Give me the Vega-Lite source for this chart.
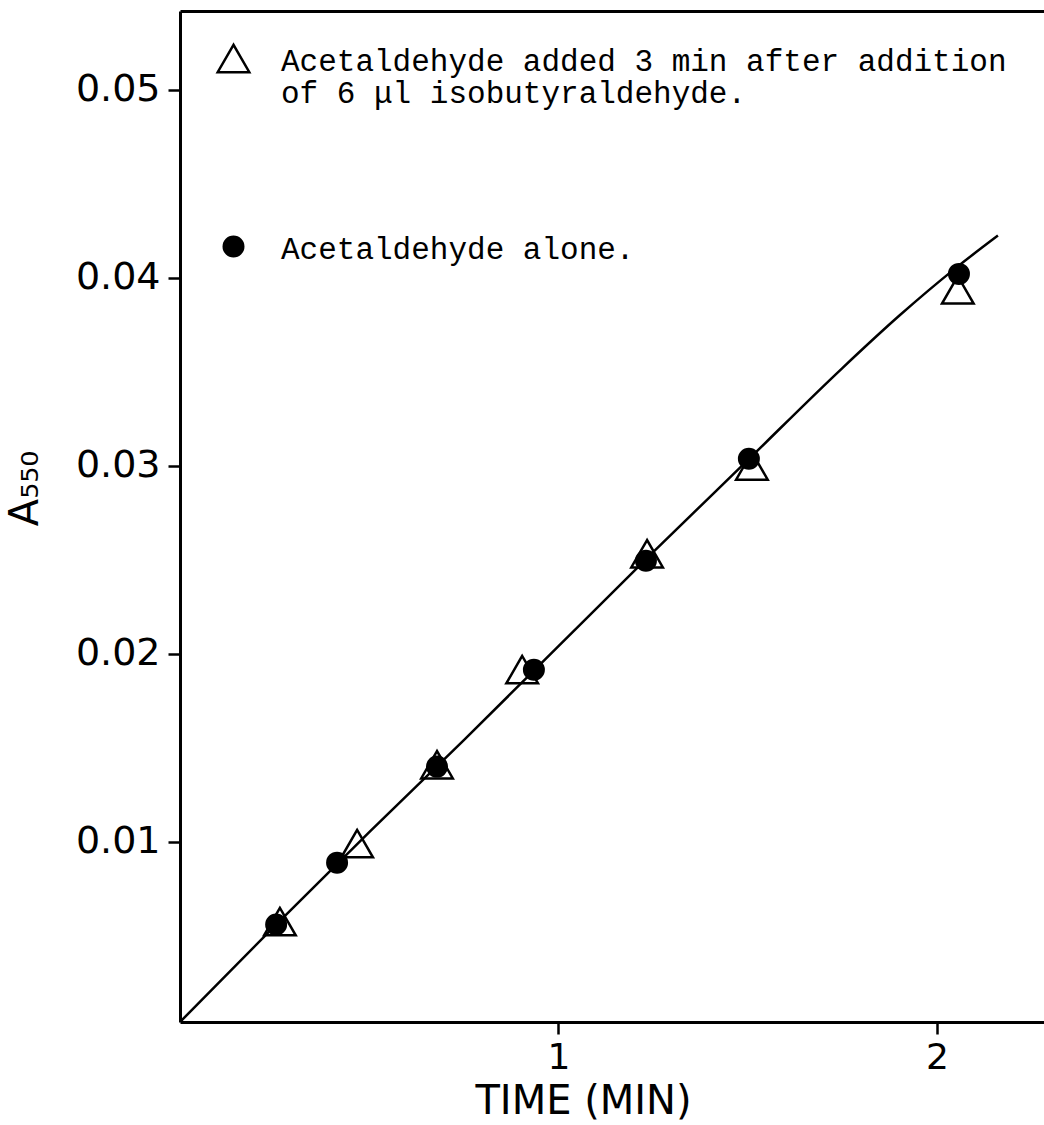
{
  "$schema": "https://vega.github.io/schema/vega-lite/v6.json",
  "autosize": {"type": "none"},
  "padding": {"left": 180, "top": 11, "right": 0, "bottom": 103},
  "width": 864,
  "height": 1011,
  "background": "white",
  "config": {
    "view": {"stroke": null},
    "style": {"guide-label": {"lineHeight": 32}},
    "axis": {
      "domainColor": "black", "domainWidth": 3, "tickColor": "black", "tickWidth": 2.5,
      "labelColor": "black", "titleColor": "black", "grid": false,
      "labelFont": "DejaVu Sans", "titleFont": "DejaVu Sans", "labelFontWeight": "normal", "titleFontWeight": "normal"
    },
    "legend": {
      "title": null, "orient": "none", "legendX": 36, "legendY": 30, "padding": 0,
      "labelFont": "Liberation Mono", "labelFontSize": 31, "labelColor": "black", "labelLimit": 0,
      "labelOffset": 30, "rowPadding": 122, "symbolStrokeColor": "black", "symbolStrokeWidth": 2.5,
      "symbolOpacity": 1, "labelBaseline": "top"
    }
  },
  "datasets": {
    "points": [
      {"t": 0.264, "a550": 0.00574, "series": "Acetaldehyde added 3 min after addition of 6 μl isobutyraldehyde."},
      {"t": 0.468, "a550": 0.00989, "series": "Acetaldehyde added 3 min after addition of 6 μl isobutyraldehyde."},
      {"t": 0.679, "a550": 0.01409, "series": "Acetaldehyde added 3 min after addition of 6 μl isobutyraldehyde."},
      {"t": 0.904, "a550": 0.01915, "series": "Acetaldehyde added 3 min after addition of 6 μl isobutyraldehyde."},
      {"t": 1.234, "a550": 0.02532, "series": "Acetaldehyde added 3 min after addition of 6 μl isobutyraldehyde."},
      {"t": 1.511, "a550": 0.02999, "series": "Acetaldehyde added 3 min after addition of 6 μl isobutyraldehyde."},
      {"t": 2.055, "a550": 0.03936, "series": "Acetaldehyde added 3 min after addition of 6 μl isobutyraldehyde."},
      {"t": 0.254, "a550": 0.00559, "series": "Acetaldehyde alone."},
      {"t": 0.415, "a550": 0.00888, "series": "Acetaldehyde alone."},
      {"t": 0.679, "a550": 0.01399, "series": "Acetaldehyde alone."},
      {"t": 0.935, "a550": 0.01915, "series": "Acetaldehyde alone."},
      {"t": 1.231, "a550": 0.02495, "series": "Acetaldehyde alone."},
      {"t": 1.503, "a550": 0.03037, "series": "Acetaldehyde alone."},
      {"t": 2.058, "a550": 0.04021, "series": "Acetaldehyde alone."}
    ],
    "curve": [
      {"t": 0, "a550": 0.0004},
      {"t": 0.25, "a550": 0.0055},
      {"t": 0.5, "a550": 0.0105},
      {"t": 0.75, "a550": 0.0154},
      {"t": 1.0, "a550": 0.0204},
      {"t": 1.25, "a550": 0.0254},
      {"t": 1.5, "a550": 0.0303},
      {"t": 1.75, "a550": 0.0352},
      {"t": 1.9, "a550": 0.03798},
      {"t": 2.05, "a550": 0.04053},
      {"t": 2.161, "a550": 0.04225}
    ]
  },
  "resolve": {"axis": {"x": "independent"}},
  "layer": [
    {
      "data": {"name": "curve"},
      "mark": {"type": "line", "color": "black", "strokeWidth": 2.5, "interpolate": "monotone", "clip": true},
      "encoding": {
        "x": {
          "field": "t", "type": "quantitative",
          "scale": {"domain": [0, 2.2827], "nice": false, "zero": false},
          "axis": {
            "orient": "bottom", "values": [1, 2], "format": "d", "tickSize": 12,
            "labelFontSize": 36, "labelPadding": 6,
            "title": "TIME (MIN)", "titleFontSize": 40, "titleX": 403, "titleY": 91,
            "titleAlign": "center", "titleBaseline": "alphabetic"
          }
        },
        "y": {
          "field": "a550", "type": "quantitative", "title": "A₅₅₀",
          "scale": {"domain": [0.0004, 0.0542], "nice": false, "zero": false},
          "axis": {
            "values": [0.01, 0.02, 0.03, 0.04, 0.05], "format": ".2f", "tickSize": 12,
            "labelFontSize": 38, "labelPadding": 8,
            "titleFontSize": 40, "titleAngle": -90, "titleX": -143, "titleY": 477,
            "titleAlign": "center", "titleBaseline": "alphabetic"
          }
        }
      }
    },
    {
      "data": {"name": "points"},
      "mark": {"type": "point", "stroke": "black", "strokeWidth": 2.5, "opacity": 1},
      "encoding": {
        "x": {
          "field": "t", "type": "quantitative",
          "axis": {"orient": "top", "labels": false, "ticks": false, "title": null, "domainWidth": 3}
        },
        "y": {
          "field": "a550", "type": "quantitative", "title": "A₅₅₀"
        },
        "shape": {
          "field": "series", "type": "nominal",
          "scale": {"domain": ["Acetaldehyde added 3 min after addition of 6 μl isobutyraldehyde.", "Acetaldehyde alone."], "range": ["triangle-up", "circle"]},
          "legend": {
            "labelExpr": "indexof(datum.label, ' of ') > 0 ? [slice(datum.label, 0, indexof(datum.label, ' of ')), slice(datum.label, indexof(datum.label, ' of ') + 1)] : datum.label",
            "encoding": {
              "labels": {"dy": {"value": -12}, "lineHeight": {"value": 32}},
              "symbols": {"stroke": {"value": "black"}, "strokeWidth": {"value": 2.5}, "opacity": {"value": 1}, "strokeOpacity": {"value": 1}}
            }
          }
        },
        "fill": {
          "field": "series", "type": "nominal",
          "scale": {"domain": ["Acetaldehyde added 3 min after addition of 6 μl isobutyraldehyde.", "Acetaldehyde alone."], "range": ["transparent", "black"]},
          "legend": {
            "labelExpr": "indexof(datum.label, ' of ') > 0 ? [slice(datum.label, 0, indexof(datum.label, ' of ')), slice(datum.label, indexof(datum.label, ' of ') + 1)] : datum.label",
            "encoding": {
              "labels": {"dy": {"value": -12}, "lineHeight": {"value": 32}},
              "symbols": {"stroke": {"value": "black"}, "strokeWidth": {"value": 2.5}, "opacity": {"value": 1}, "strokeOpacity": {"value": 1}}
            }
          }
        },
        "size": {
          "field": "series", "type": "nominal",
          "scale": {"domain": ["Acetaldehyde added 3 min after addition of 6 μl isobutyraldehyde.", "Acetaldehyde alone."], "range": [1000, 380]},
          "legend": {
            "labelExpr": "indexof(datum.label, ' of ') > 0 ? [slice(datum.label, 0, indexof(datum.label, ' of ')), slice(datum.label, indexof(datum.label, ' of ') + 1)] : datum.label",
            "encoding": {
              "labels": {"dy": {"value": -12}, "lineHeight": {"value": 32}},
              "symbols": {"stroke": {"value": "black"}, "strokeWidth": {"value": 2.5}, "opacity": {"value": 1}, "strokeOpacity": {"value": 1}}
            }
          }
        }
      }
    }
  ]
}
